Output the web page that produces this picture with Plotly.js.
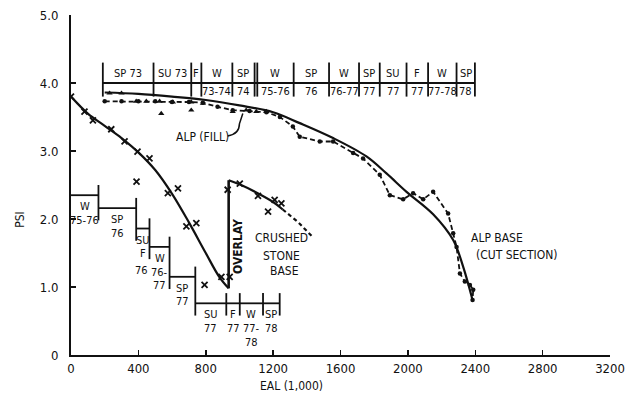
<!DOCTYPE html>
<html><head><meta charset="utf-8">
<script src="https://cdn.plot.ly/plotly-3.0.1.min.js"></script>
<style>html,body{margin:0;padding:0;background:#fff} .main-svg text{font-stretch:condensed;}</style>
</head><body><div id="chart" style="width:629px;height:398px"></div>
<script>
const FONT = "DejaVu Sans Condensed, Liberation Sans Narrow, sans-serif";

// ---- Crushed stone base section ----
const csFitX = [0, 100, 200, 300, 400, 500, 600, 700, 800, 880, 936];
const csFitY = [3.80, 3.55, 3.37, 3.19, 2.98, 2.72, 2.37, 1.95, 1.50, 1.15, 0.98];
const csPtsX = [0, 80, 130, 239, 318, 395, 466, 389, 575, 635, 685, 744, 793, 893, 930, 942];
const csPtsY = [3.80, 3.58, 3.45, 3.32, 3.14, 2.99, 2.89, 2.55, 2.38, 2.45, 1.89, 1.94, 1.03, 1.15, 2.43, 1.15];
const overlayX = [936, 936];
const overlayY = [0.98, 2.57];
const ovFitX = [936, 1000, 1100, 1200, 1257];
const ovFitY = [2.57, 2.51, 2.39, 2.25, 2.14];
const ovDashX = [1257, 1350, 1437];
const ovDashY = [2.14, 1.95, 1.73];
const ovPtsX = [1002, 1110, 1209, 1249, 1170];
const ovPtsY = [2.52, 2.34, 2.28, 2.23, 2.11];

// ---- ALP sections ----
const alpFitX = [200, 400, 600, 800, 1000, 1200, 1358, 1556, 1754, 1873, 1992, 2150, 2269, 2328, 2384];
const alpFitY = [3.86, 3.84, 3.80, 3.75, 3.67, 3.57, 3.41, 3.19, 2.92, 2.67, 2.40, 2.07, 1.69, 1.30, 0.81];
const alpDataX = [200, 300, 400, 500, 600, 700, 783, 870, 960, 1060, 1160, 1240, 1317, 1358, 1477, 1556, 1675, 1734, 1833, 1893, 1972, 2031, 2091, 2150, 2239, 2269, 2289, 2309, 2338, 2368, 2388, 2384];
const alpDataY = [3.73, 3.73, 3.73, 3.73, 3.72, 3.72, 3.71, 3.65, 3.60, 3.59, 3.57, 3.50, 3.36, 3.21, 3.14, 3.14, 2.97, 2.89, 2.65, 2.35, 2.29, 2.38, 2.29, 2.40, 2.08, 1.79, 1.59, 1.20, 1.08, 1.03, 0.96, 0.81];
const alpFillPtsX = [229, 300, 387, 447, 526, 536, 605, 714, 714, 783, 960, 1040, 1100, 1160];
const alpFillPtsY = [3.85, 3.85, 3.73, 3.73, 3.73, 3.55, 3.72, 3.72, 3.60, 3.70, 3.58, 3.60, 3.58, 3.58];

// ---- Top season timeline (ALP) ----
const topBounds = [189, 490, 714, 774, 958, 1090, 1106, 1322, 1532, 1710, 1833, 1992, 2120, 2289, 2398];
const topUpper = ["SP 73", "SU 73", "F", "W", "SP", "", "W", "SP", "W", "SP", "SU", "F", "W", "SP"];
const topLower = ["", "", "", "73-74", "74", "", "75-76", "76", "76-77", "77", "77", "77", "77-78", "78"];

// ---- Stair season timeline (crushed stone) ----
const stairBounds = [0, 163, 387, 466, 585, 738, 922, 1002, 1140, 1239];
const stairLevels = [2.35, 2.16, 1.86, 1.59, 1.15, 0.76, 0.76, 0.76, 0.76];
const stairLabels = [["W", "75-76"], ["SP", "76"], ["SU"], ["W", "76-", "77"], ["SP", "77"], ["SU", "77"], ["F", "77"], ["W", "77-", "78"], ["SP", "78"]];

// ---- ticks ----
const xTicks = [0, 400, 800, 1200, 1600, 2000, 2400, 2800, 3200];
const yTicks = [0, 1, 2, 3, 4, 5];
const yTickText = ["0", "1.0", "2.0", "3.0", "4.0", "5.0"];

const K = "#111";
const traces = [
  {x: csFitX, y: csFitY, mode: "lines", line: {color: K, width: 2.2, shape: "spline", smoothing: 1}},
  {x: csPtsX, y: csPtsY, mode: "markers", marker: {symbol: "x-thin", size: 6, line: {color: K, width: 1.8}}},
  {x: overlayX, y: overlayY, mode: "lines", line: {color: K, width: 2.6}},
  {x: ovFitX, y: ovFitY, mode: "lines", line: {color: K, width: 2.2, shape: "spline"}},
  {x: ovDashX, y: ovDashY, mode: "lines", line: {color: K, width: 2.2, dash: "4px,3px"}},
  {x: ovPtsX, y: ovPtsY, mode: "markers", marker: {symbol: "x-thin", size: 6, line: {color: K, width: 1.8}}},
  {x: alpFitX, y: alpFitY, mode: "lines", line: {color: K, width: 2.2, shape: "spline", smoothing: 1}},
  {x: alpDataX, y: alpDataY, mode: "lines+markers", line: {color: K, width: 1.8, dash: "5px,3px", shape: "linear"}, marker: {symbol: "circle", size: 4.5, color: K}},
  {x: alpFillPtsX, y: alpFillPtsY, mode: "markers", marker: {symbol: "triangle-up", size: 5.5, color: K}}
];

const shapes = [];
const annotations = [];
const f10 = {family: FONT, size: 11, color: K};
// top timeline
shapes.push({type: "line", xref: "x", yref: "y", x0: topBounds[0], x1: topBounds[topBounds.length - 1], y0: 4.0, y1: 4.0, line: {color: K, width: 1.8}});
topBounds.forEach((b) => {
  shapes.push({type: "line", xref: "x", yref: "y", x0: b, x1: b, y0: 3.80, y1: 4.30, line: {color: K, width: 1.8}});
});
for (let i = 0; i < topUpper.length; i++) {
  const c = (topBounds[i] + topBounds[i + 1]) / 2;
  if (topUpper[i]) annotations.push({x: c, y: 4.14, text: topUpper[i], showarrow: false, font: f10});
  if (topLower[i]) annotations.push({x: c, y: 3.88, text: topLower[i], showarrow: false, font: f10});
}
// stair timeline
for (let i = 0; i < stairLevels.length; i++) {
  const x0 = stairBounds[i], x1 = stairBounds[i + 1], lv = stairLevels[i];
  shapes.push({type: "line", xref: "x", yref: "y", x0: x0, x1: x1, y0: lv, y1: lv, line: {color: K, width: 1.8}});
  const nxt = i + 1 < stairLevels.length ? stairLevels[i + 1] : lv;
  shapes.push({type: "line", xref: "x", yref: "y", x0: x1, x1: x1, y0: lv + 0.15, y1: nxt - 0.18, line: {color: K, width: 1.8}});
  const c = (x0 + x1) / 2;
  stairLabels[i].forEach((t, j) => {
    annotations.push({x: c, y: lv - 0.17 - j * 0.2, text: t, showarrow: false, font: f10});
  });
}
annotations.push({x: 426, y: 1.50, text: "F", showarrow: false, font: f10});
annotations.push({x: 420, y: 1.25, text: "76", showarrow: false, font: f10});

// labels
const f11 = {family: FONT, size: 12, color: K};
annotations.push({x: 783, y: 3.21, text: "ALP (FILL)", showarrow: false, font: f11});
shapes.push({type: "path", xref: "x", yref: "y", path: "M 930 3.22 Q 1000 3.25 1000 3.40 L 1020 3.55", line: {color: K, width: 1.5}});
annotations.push({x: 992, y: 1.59, text: "<b>OVERLAY</b>", textangle: -90, showarrow: false, font: f11});
annotations.push({x: 1249, y: 1.72, text: "CRUSHED", showarrow: false, font: f11});
annotations.push({x: 1249, y: 1.45, text: "STONE", showarrow: false, font: f11});
annotations.push({x: 1265, y: 1.23, text: "BASE", showarrow: false, font: f11});
annotations.push({x: 2527, y: 1.72, text: "ALP BASE", showarrow: false, font: f11});
annotations.push({x: 2646, y: 1.47, text: "(CUT SECTION)", showarrow: false, font: f11});
annotations.push({x: 1310, yref: "paper", y: -0.091, yanchor: "middle", text: "EAL (1,000)", showarrow: false, font: f11});
annotations.push({xref: "paper", x: -0.095, xanchor: "center", y: 2.0, text: "PSI", textangle: -90, showarrow: false, font: f11});

const layout = {
  width: 629, height: 398,
  margin: {l: 71, r: 19, t: 15, b: 43},
  paper_bgcolor: "#fff", plot_bgcolor: "#fff",
  showlegend: false,
  font: {family: FONT, size: 12, color: K},
  xaxis: {range: [0, 3200], tickvals: xTicks, ticktext: xTicks.map(String), ticks: "inside", ticklen: 5, tickwidth: 1.5, tickcolor: K,
          showgrid: false, zeroline: false, showline: true, linecolor: K, linewidth: 2, fixedrange: true, tickfont: {family: FONT, size: 13, color: K}},
  yaxis: {range: [0, 5], tickvals: yTicks, ticktext: yTickText, ticks: "inside", ticklen: 5, tickwidth: 1.5, tickcolor: K, ticklabelstandoff: 8,
          showgrid: false, zeroline: false, showline: true, linecolor: K, linewidth: 2, fixedrange: true, tickfont: {family: FONT, size: 13, color: K}},
  shapes: shapes,
  annotations: annotations
};
Plotly.newPlot("chart", traces, layout, {displayModeBar: false, staticPlot: true});
</script></body></html>
